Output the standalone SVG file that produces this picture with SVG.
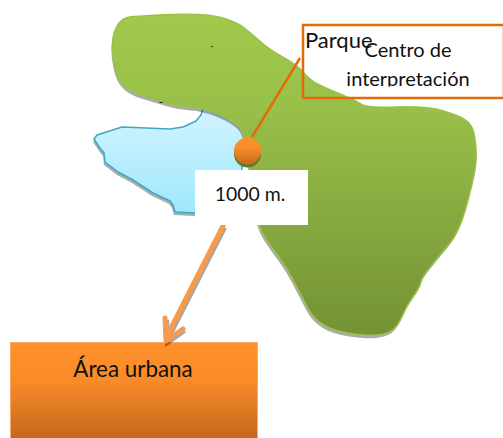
<svg xmlns="http://www.w3.org/2000/svg" width="503" height="438" viewBox="0 0 503 438">
<style>
text{font-family:"Lato","Liberation Sans",sans-serif;fill:#111}
.shadow{fill:#000;opacity:.33}
.c{font-size:20px}
</style>
<defs>
<linearGradient id="g" x1="0" y1="0" x2="0" y2="1"><stop offset="0" stop-color="#a2c94c"/><stop offset=".3" stop-color="#98bf48"/><stop offset="1" stop-color="#739235"/></linearGradient>
<linearGradient id="w" x1="0" y1="0" x2="0" y2="1"><stop offset="0" stop-color="#d2f4fe"/><stop offset="1" stop-color="#9fe7fd"/></linearGradient>
<linearGradient id="o" x1="0" y1="0" x2="0" y2="1"><stop offset="0" stop-color="#ff912b"/><stop offset=".4" stop-color="#f98b29"/><stop offset="1" stop-color="#c4681e"/></linearGradient>
<clipPath id="clip"><rect x="303" y="26" width="200" height="60.500"/></clipPath>
<path id="land" d="M171 14.500Q205 13 221 17.500Q237 22 245 28.500Q253 35 261.500 42.500Q270 50 283.500 57.500Q297 65 303.500 72.500Q310 80 316.500 83.500Q323 87 334 91.500Q345 96 350.500 98.500Q356 101 361.500 104.500Q367 108 397 107Q427 106 443.500 111Q460 116 465.500 120Q471 124 473 130Q475 136 476 148Q477 160 474 175Q471 190 465 211Q459 232 449.500 243.500Q440 255 431 266Q422 277 421 282Q420 287 413.500 296Q407 305 402.500 315.500Q398 326 392.500 330Q387 334 377 335Q367 336 350 333.500Q333 331 323 324.500Q313 318 307.500 307.500Q302 297 294.500 282.500Q287 268 279.500 258Q272 248 264.500 236.500Q257 225 253.500 200Q250 175 247.500 154Q245 133 239 126.500Q233 120 218 114Q203 108 191.500 107.500Q180 107 168.500 103.500Q157 100 143.500 96Q130 92 123.500 85Q117 78 114.500 65.500Q112 53 112.500 43Q113 33 117.500 25.500Q122 18 129.500 17Q137 16 171 14.500Z"/>
<path id="lake" d="M203 108L201 115L196 121L183 127L170 129L122 127L97 135L94 139L100 148L104 153L105 162L118 172L133 180L153 193L170 201L173 205L175 212L195 213L240 190L245 133L233 120Z"/>
</defs>
<text x="158" y="103" font-size="18">Lago</text>
<g id="lake-node"><use href="#lake" class="shadow" x="-1" y="3"/><use href="#lake" fill="url(#w)" stroke="#3fa6c5" stroke-width="1.500" stroke-linejoin="round"/></g>
<g id="park-node"><use href="#land" class="shadow" x="-1" y="3"/><use href="#land" fill="url(#g)" stroke="#9bc14b" stroke-width="1.500"/><circle cx="212" cy="46.500" r=".8" fill="#111"/></g>
<g id="urban"><rect x="10.500" y="342.500" width="247" height="96" fill="url(#o)" stroke="#f9a766"/><text x="133" y="377" text-anchor="middle" font-size="22.400">Área urbana</text></g>
<g id="connectors">
<path d="M300 58L252 137" fill="none" stroke="#e36c0a" stroke-width="2.500"/>
<path d="M223 226L166 338M165 318L166 341L183 329" fill="none" stroke="#000" stroke-opacity=".35" stroke-width="5" transform="translate(1.500 1.500)"/>
<path d="M223 226L166 338M165 318L166 341L183 329" fill="none" stroke="#f79a4b" stroke-width="5" stroke-linejoin="round" stroke-linecap="round"/>
</g>
<g id="point"><circle cx="247.500" cy="154" r="13.500" fill="#5f7a2c"/><circle cx="247.500" cy="151" r="13.500" fill="url(#o)"/></g>
<g id="dist"><rect x="195" y="170" width="113" height="55" fill="#fff"/><text x="250" y="201" text-anchor="middle" font-size="19.400">1000 m.</text></g>
<g id="centro"><rect x="303" y="25" width="201" height="73" fill="none" stroke="#e36c0a" stroke-width="2.500"/>
<text x="305" y="48" font-size="22">Parque</text>
<g clip-path="url(#clip)"><text class="c" x="408" y="56.500" text-anchor="middle">Centro de</text><text class="c" x="408" y="86" text-anchor="middle">interpretación</text></g></g>
</svg>
